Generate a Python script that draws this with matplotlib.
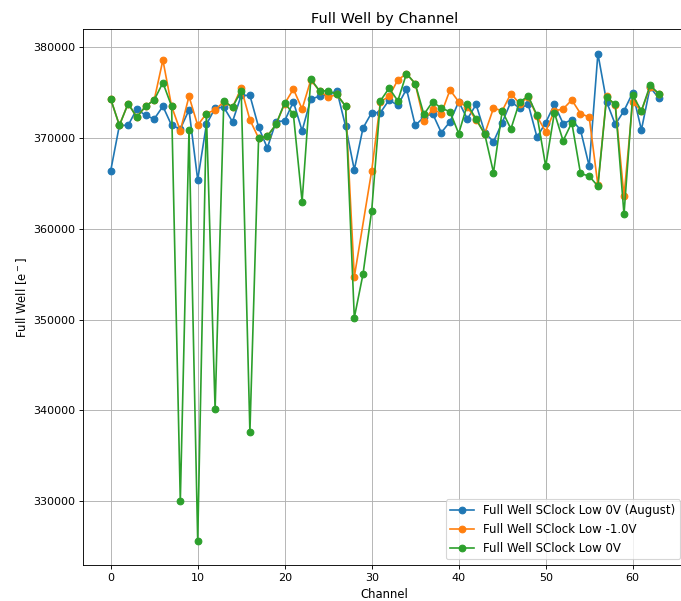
import matplotlib
matplotlib.use("Agg")
import matplotlib.pyplot as plt

channels = list(range(64))

fw_august = [366400, 371400, 371400, 373200, 372500, 372100, 373500, 371400,
             371000, 373100, 365400, 371500, 373300, 373400, 371800, 374700,
             374700, 371200, 368900, 371800, 371900, 374000, 370800, 374300,
             374600, 374800, 375200, 371300, 366500, 371100, 372800, 372800,
             374200, 373600, 375400, 371400, 372300, 372700, 370600, 371800,
             374000, 372100, 373700, 370600, 369600, 371700, 374000, 373300,
             373700, 370100, 371700, 373700, 371600, 372000, 370900, 366900,
             379300, 374000, 371500, 373000, 375000, 370900, 375600, 374400]

fw_m1v = [374300, 371400, 373800, 372300, 373500, 374200, 378600, 373500,
          370800, 374600, 371400, 372700, 373100, 374000, 373400, 375500,
          372000, 370000, 370200, 371500, 373800, 375400, 373200, 376400,
          375200, 374500, 374800, 373500, 354700, None, 366400, 374000,
          374600, 376400, 377100, 376000, 371900, 373200, 372700, 375300,
          374000, 373400, 372000, 370500, 373300, 373000, 374900, 373800,
          374500, 372400, 370700, 373000, 373200, 374200, 372700, 372300,
          364800, 374600, 373600, 363600, 374000, 373000, 375600, 374900]

fw_0v = [374300, 371400, 373800, 372300, 373500, 374200, 376100, 373500,
         330000, 370900, 325600, 372700, 340100, 374100, 373400, 375200,
         337600, 370000, 370200, 371500, 373900, 372600, 363000, 376500,
         375200, 375200, 374800, 373500, 350200, 355000, 362000, 374100,
         375500, 374100, 377100, 376000, 372600, 374000, 373300, 372900,
         370500, 373700, 372100, 370400, 366200, 373000, 371000, 374000,
         374600, 372500, 366900, 372800, 369700, 371700, 366100, 365800,
         364700, 374500, 373700, 361600, 374700, 373000, 375800, 374900]

labels = ["Full Well SClock Low 0V (August)",
          "Full Well SClock Low -1.0V",
          "Full Well SClock Low 0V"]

dpi = 80
fig = plt.figure(figsize=(681 / dpi, 601 / dpi), dpi=dpi)
ax = fig.add_axes([83.3 / 681, 35.7 / 601, (686.2 - 83.3) / 681, (565.3 - 29.3) / 601])

for vals, lab in zip([fw_august, fw_m1v, fw_0v], labels):
    xs = [c for c, v in zip(channels, vals) if v is not None]
    ys = [v for v in vals if v is not None]
    ax.plot(xs, ys, marker='o', label=lab)

ax.set_title("Full Well by Channel", fontsize=13)
ax.set_xlabel("Channel", fontsize=10.5)
ax.set_ylabel(r"Full Well [e$^-$]", fontsize=10.5)
ax.tick_params(labelsize=10)
ax.grid(True)
ax.legend(loc='lower right', fontsize=10.6)

fig.savefig("out.png", dpi=dpi)
